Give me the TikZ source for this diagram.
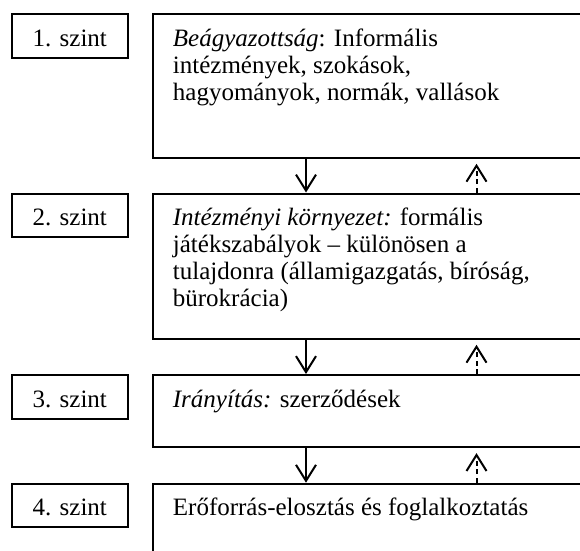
\documentclass[tikz,border=0pt]{standalone}
\usepackage{fontspec}
\setmainfont{Liberation Serif}
\usetikzlibrary{arrows.meta,calc}
\begin{document}
\begin{tikzpicture}[x=1pt,y=-1pt,
  lvl/.style={draw, line width=2.1pt, rectangle, inner sep=0pt, anchor=north west,
    minimum width=116pt, minimum height=43.5pt},
  big/.style={draw, line width=2.1pt, rectangle, inner sep=0pt, anchor=north west,
    minimum width=460pt},
  txt/.style={inner sep=0pt, anchor=base west, font=\fontsize{25pt}{27pt}\selectfont},
  lbl/.style={inner sep=0pt, anchor=base, font=\fontsize{25pt}{27pt}\selectfont},
  dn/.style={line width=2pt, -{Straight Barb[length=16pt,width=20pt]}},
  upd/.style={line width=2pt, dash pattern=on 5pt off 3.5pt,
    -{Straight Barb[length=16pt,width=20pt]}, shorten >=5pt}]
\useasboundingbox (0,0) rectangle (580,550);
\clip (0,0) rectangle (580,550);
% level boxes
\node[lvl] (s1) at (10.7,13.3) {};
\node[lvl] (s2) at (10.7,192.5) {};
\node[lvl] (s3) at (10.7,374) {};
\node[lvl] (s4) at (10.7,482.7) {};
\node[lbl] (l1) at ($(s1.north)+(0,33)$) {1. szint};
\node[lbl] (l2) at ($(s2.north)+(0,33)$) {2. szint};
\node[lbl] (l3) at ($(s3.north)+(0,33)$) {3. szint};
\node[lbl] (l4) at ($(s4.north)+(0,33)$) {4. szint};
% content boxes
\node[big, minimum height=143.4pt] (b1) at (152.3,13.3) {};
\node[big, minimum height=145.2pt] (b2) at (152.3,192.5) {};
\node[big, minimum height=72pt] (b3) at (152.3,374) {};
\node[big, minimum height=100pt] (b4) at (152.3,482.7) {};
\node[txt] (t1) at (172.7,46.3) {\vtop{\hbox{\textit{Beágyazottság}: Informális}\hbox{intézmények, szokások,}\hbox{hagyományok, normák, vallások}}};
\node[txt] (t2) at (172.7,225.5) {\vtop{\hbox{\textit{Intézményi környezet:} formális}\hbox{játékszabályok – különösen a}\hbox{tulajdonra (államigazgatás, bíróság,}\hbox{bürokrácia)}}};
\node[txt] (t3) at (172.7,407) {\textit{Irányítás:} szerződések};
\node[txt] (t4) at (172.7,515.7) {Erőforrás-elosztás és foglalkoztatás};
% arrows
\coordinate (dx) at (306,0);
\coordinate (ux) at (476.5,0);
\draw[dn] (dx |- b1.south) -- (dx |- b2.north);
\draw[dn] (dx |- b2.south) -- (dx |- b3.north);
\draw[dn] (dx |- b3.south) -- (dx |- b4.north);
\draw[upd] (ux |- b2.north) -- (ux |- b1.south);
\draw[upd] (ux |- b3.north) -- (ux |- b2.south);
\draw[upd] (ux |- b4.north) -- (ux |- b3.south);
\end{tikzpicture}
\end{document}
